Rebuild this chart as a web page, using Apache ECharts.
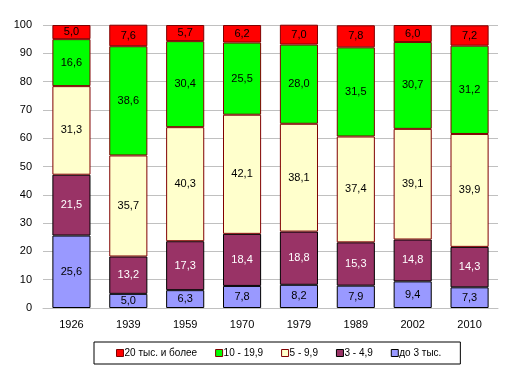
<!DOCTYPE html>
<html>
<head>
<meta charset="utf-8">
<script src="https://cdn.jsdelivr.net/npm/echarts@6/dist/echarts.min.js"></script>
<style>html,body{margin:0;padding:0;background:#fff}#c{width:513px;height:375px}</style>
</head>
<body>
<div id="c"></div>
<script>
const years = ['1926','1939','1959','1970','1979','1989','2002','2010'];
const seriesNames = ['20 тыс. и более','10 - 19,9','5 - 9,9','3 - 4,9','до 3 тыс.'];
const s20 = [5.0, 7.6, 5.7, 6.2, 7.0, 7.8, 6.0, 7.2];
const s10 = [16.6, 38.6, 30.4, 25.5, 28.0, 31.5, 30.7, 31.2];
const s5 = [31.3, 35.7, 40.3, 42.1, 38.1, 37.4, 39.1, 39.9];
const s3 = [21.5, 13.2, 17.3, 18.4, 18.8, 15.3, 14.8, 14.3];
const s0 = [25.6, 5.0, 6.3, 7.8, 8.2, 7.9, 9.4, 7.3];
const yTicks = [0,10,20,30,40,50,60,70,80,90,100];

const colors = ['#FF0000','#00FF00','#FFFFCC','#993366','#9999FF'];
const borders = ['#800000','#800000','#800000','#000000','#000000'];
const labelColors = ['#000','#000','#000','#fff','#000'];
const dataArr = [s20, s10, s5, s3, s0];

const fmt = v => v.toFixed(1).replace('.', ',');

const order = [4,3,2,1,0];
const series = order.map(i => ({
  name: seriesNames[i],
  type: 'bar',
  stack: 'total',
  barWidth: '67%',
  data: dataArr[i],
  itemStyle: { color: colors[i], borderColor: borders[i], borderWidth: 1 },
  label: {
    show: true, position: 'inside', color: labelColors[i],
    fontFamily: 'Liberation Sans, Arial', fontSize: 11,
    formatter: p => fmt(p.value)
  },
  emphasis: { disabled: true }
}));

const chart = echarts.init(document.getElementById('c'), null, {renderer: 'canvas'});
chart.setOption({
  animation: false,
  backgroundColor: '#fff',
  grid: { left: 43, right: 15, top: 25, bottom: 67 },
  legend: {
    data: seriesNames.map((n, i) => ({ name: n, itemStyle: { color: colors[i], borderColor: borders[i], borderWidth: 1 } })),
    bottom: 11,
    left: 94,
    itemWidth: 7,
    itemHeight: 7,
    itemGap: 18,
    icon: 'rect',
    borderColor: '#000',
    borderWidth: 1,
    padding: [6, 19, 6, 22],
    textStyle: { fontFamily: 'Liberation Sans, Arial', fontSize: 10, color: '#000', padding: [0, 0, 0, -4] },
    selectedMode: false
  },
  xAxis: {
    type: 'category',
    data: years,
    axisLine: { show: true, lineStyle: { color: '#C0C0C0' } },
    axisTick: { show: false },
    axisLabel: { color: '#000', fontFamily: 'Liberation Sans, Arial', fontSize: 11, margin: 11 }
  },
  yAxis: {
    type: 'value',
    min: yTicks[0], max: yTicks[yTicks.length-1], interval: 10,
    axisLine: { show: false },
    axisTick: { show: false },
    splitLine: { lineStyle: { color: '#C0C0C0' } },
    axisLabel: { color: '#000', fontFamily: 'Liberation Sans, Arial', fontSize: 11, margin: 11 }
  },
  series: series
});
</script>
</body>
</html>
